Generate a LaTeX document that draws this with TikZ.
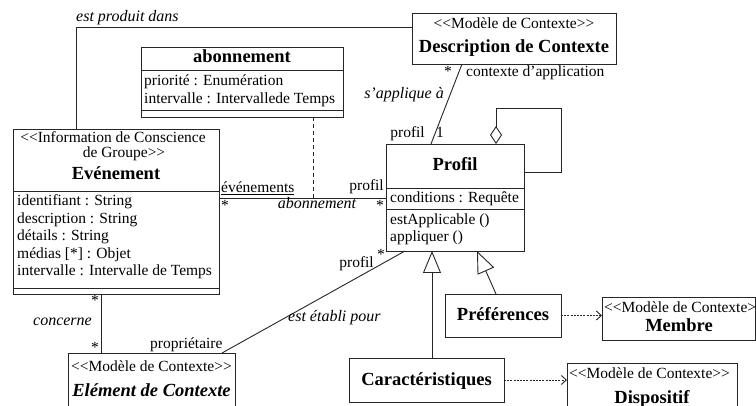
\documentclass[tikz,border=0pt]{standalone}
\usepackage{fontspec}
\setmainfont{Liberation Serif}
\usetikzlibrary{arrows.meta,calc}
\newcommand\rmsz{\fontsize{15.5}{17.5}\selectfont}
\newcommand\bfsz{\fontsize{18.5}{21}\selectfont\bfseries}
\newcommand\itsz{\fontsize{16}{18}\selectfont\itshape}
\tikzset{
 cls/.style={draw=black!85, line width=0.9pt, inner sep=0pt, outer sep=0pt, anchor=north west},
 rm/.style={inner sep=0pt, font=\rmsz},
 bf/.style={inner sep=0pt, font=\bfsz},
 it/.style={inner sep=0pt, font=\itsz},
 lnk/.style={draw=black!85, line width=0.9pt},
 divider/.style={draw=black!85, line width=0.9pt},
 dep/.style={lnk, dash pattern=on 2pt off 1.2pt, -{Straight Barb[length=5pt,width=9pt]}},
 gen/.style={lnk, -{Triangle[length=22pt,width=18pt,fill=white]}},
 agg/.style={lnk, -{Diamond[length=18pt,width=12pt,fill=white]}},
}
\begin{document}
\begin{tikzpicture}[x=1pt,y=-1pt]
\useasboundingbox (0,0) rectangle (756,406);
\fill[white] (0,0) rectangle (756,406);
\clip (0,0) rectangle (756,406);

% ---- classes ----
\node[cls, minimum width=204, minimum height=51] (desc) at (412,13) {};
\node[rm, anchor=base] (descst) at (514,29) {<{}<Modèle de Contexte>{}>};
\node[bf, anchor=base] (descnm) at (514,53) {Description de Contexte};

\node[cls, minimum width=202, minimum height=70] (abon) at (141,47) {};
\node[bf, anchor=base] (abonnm) at (242,63) {abonnement};
\node[rm, anchor=base west] (abona1) at (144,86) {priorité : Enumération};
\node[rm, anchor=base west] (abona2) at (144,104) {intervalle : Intervallede Temps};
\draw[divider] ([yshift=-23]abon.north west) -- ([yshift=-23]abon.north east);
\draw[divider] ([yshift=-63]abon.north west) -- ([yshift=-63]abon.north east);

\node[cls, minimum width=206, minimum height=165] (even) at (13,129) {};
\node[rm, anchor=base] (evenst1) at (113,143) {<{}<Information de Conscience};
\node[rm, anchor=base] (evenst2) at (124,158) {de Groupe>{}>};
\node[bf, anchor=base] (evennm) at (116,180) {Evénement};
\draw[divider] ([yshift=-62]even.north west) -- ([yshift=-62]even.north east);
\node[rm, anchor=base west] (evena1) at (17,206) {identifiant : String};
\node[rm, anchor=base west] (evena2) at (17,224) {description : String};
\node[rm, anchor=base west] (evena3) at (17,241) {détails : String};
\node[rm, anchor=base west] (evena4) at (17,259) {médias [*] : Objet};
\node[rm, anchor=base west] (evena5) at (17,276) {intervalle : Intervalle de Temps};
\draw[divider] ([yshift=6]even.south west) -- ([yshift=6]even.south east);

\node[cls, minimum width=138, minimum height=107] (prof) at (386,144) {};
\node[bf, anchor=base] (profnm) at (455,171) {Profil};
\draw[divider] ([yshift=-44]prof.north west) -- ([yshift=-44]prof.north east);
\node[rm, anchor=base west] (profa1) at (390,203) {conditions : Requête};
\draw[divider] ([yshift=-65]prof.north west) -- ([yshift=-65]prof.north east);
\node[rm, anchor=base west] (profo1) at (390,225) {estApplicable ()};
\node[rm, anchor=base west] (profo2) at (390,242) {appliquer ()};

\node[cls, minimum width=116, minimum height=43] (pref) at (445,294) {};
\node[bf, anchor=base] (prefnm) at (503,321) {Préférences};

\node[cls, minimum width=153, minimum height=43] (memb) at (602,297) {};
\node[rm, anchor=base west] (membst) at (604,313) {<{}<Modèle de Contexte>};
\node[bf, anchor=base] (membnm) at (679,332) {Membre};

\node[cls, minimum width=155, minimum height=44] (cara) at (349,358) {};
\node[bf, anchor=base] (caranm) at (426.5,386) {Caractéristiques};

\node[cls, minimum width=170, minimum height=50] (disp) at (567,363) {};
\node[rm, anchor=base west] (dispst) at (569,379) {<{}<Modèle de Contexte>{}>};
\node[bf, anchor=base] (dispnm) at (652,403) {Dispositif};

\node[cls, minimum width=167, minimum height=60] (elem) at (68,353) {};
\node[rm, anchor=base] (elemst) at (151.5,372) {<{}<Modèle de Contexte>{}>};
\node[bf, anchor=base, font=\bfsz\itshape] (elemnm) at (151.5,397) {Elément de Contexte};

% ---- connectors ----
\draw[lnk] ([yshift=11.5]desc.west) -| ([xshift=-40]even.north);
\node[it, anchor=base west] (lprod) at (76,22) {est produit dans};

\draw[lnk] ([yshift=13.5]even.east) coordinate (aL) -- (aL -| prof.west) coordinate (aR);
\draw[lnk, dash pattern=on 4pt off 3pt] ([xshift=71]abon.south) -- ([xshift=71]abon.south |- aL);
\node[rm, anchor=base west] (lev) at (221,193) {\underline{événements}};
\node[rm] (lst1) at (225,205) {*};
\node[it, anchor=base] (labo) at (317,209) {abonnement};
\node[rm, anchor=base east] (lpr1) at (384,191) {profil};
\node[rm] (lst2) at (380,205) {*};

\draw[lnk] ([xshift=-52]desc.south) -- ([xshift=-24]prof.north);
\node[rm] (lst3) at (448,71) {*};
\node[rm, anchor=base west] (lctx) at (466,77) {contexte d'application};
\node[it, anchor=base east] (lapp) at (444,99) {s'applique à};
\node[rm, anchor=base east] (lpr2) at (425,138) {profil};
\node[rm, anchor=base] (lone) at (440,138) {1};

\draw[agg] ([yshift=25.5]prof.east) -- ++(37,0) -- ++(0,-64) -| ([xshift=41]prof.north);

\draw[lnk] ([xshift=-50]prof.south) -- ([xshift=70.5]elem.north);
\node[rm, anchor=base east] (lpr3) at (374,268) {profil};
\node[rm] (lst4) at (381,254) {*};
\node[it, anchor=base west] (letab) at (288,322) {est établi pour};
\node[rm, anchor=base west] (lprop) at (150,349) {propriétaire};

\draw[lnk] ([xshift=-15]even.south) -- ([xshift=-15]even.south |- elem.north);
\node[rm] (lst5) at (95,300) {*};
\node[rm] (lst6) at (95,347) {*};
\node[it, anchor=base east] (lconc) at (92,326) {concerne};

\draw[gen] ([xshift=5.5]cara.north) -- ([xshift=5.5]cara.north |- prof.south);
\draw[gen] ([xshift=-7]pref.north) -- ([xshift=22]prof.south);

\draw[dep] (pref.east) -- (pref.east -| memb.west);
\draw[dep] (cara.east) -- (cara.east -| disp.west);
\end{tikzpicture}
\end{document}
